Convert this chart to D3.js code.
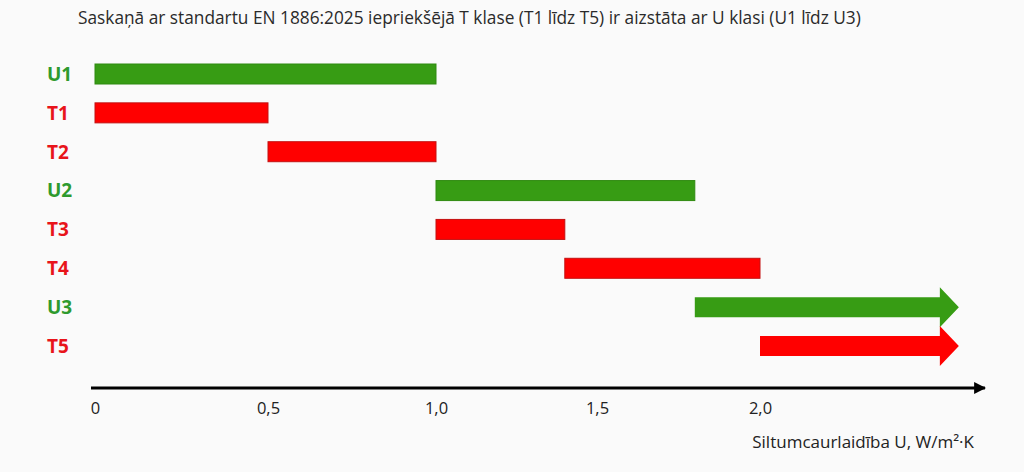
<!DOCTYPE html>
<html>
<head>
<meta charset="utf-8">
<script src="https://cdn.jsdelivr.net/npm/d3@7"></script>
<style>
	html, body { margin: 0; padding: 0; background: #fafafa; }
	svg { display: block; font-family: "Open Sans", "Noto Sans", sans-serif; }
</style>
</head>
<body>
<div id="chart-div"></div>
<script>

// classes from top to bottom, start/end in U (W/m2K), open = no upper limit
const classes = ["U1", "T1", "T2", "U2", "T3", "T4", "U3", "T5"];
const starts  = [0,    0,    0.5,  1.0,  1.0,  1.4,  1.8,  2.0];
const ends    = [1.0,  0.5,  1.0,  1.8,  1.4,  2.0,  null, null];
const tickValues = [0, 0.5, 1.0, 1.5, 2.0];
const tickLabels = ["0", "0,5", "1,0", "1,5", "2,0"];
const openEnd = 2.61;
const axisEnd = 2.69;

const title = "Saskaņā ar standartu EN 1886:2025 iepriekšējā T klase (T1 līdz T5) ir aizstāta ar U klasi  (U1 līdz U3)";
const axisTitle = "Siltumcaurlaidība U, W/m²·K";

const width = 1024, height = 472;
const green = "#379c14", red = "#ff0000";
const greenText = "#2e9a2e", redText = "#e8141a";

let svg = d3.select("#chart-div")
			.append("svg")
			.attr("width", width)
			.attr("height", height);

svg.append("rect")
	.attr("width", width)
	.attr("height", height)
	.attr("fill", "#fafafa");

const data = classes.map((c, i) => ({ name: c, start: starts[i], end: ends[i] }));

// the original drawing is not quite even, so the scale is pinned at each tick
const xScale = d3.scaleLinear()
				.domain(tickValues)
				.range([95, 268, 436, 597, 760]);

const yScale = d3.scalePoint()
				.domain(classes)
				.range([74, 346]);

const barH = 20;
const headH = 40, headL = 19;

svg.append("text")
	.attr("x", 78)
	.attr("y", 24)
	.attr("font-size", 17.3)
	.attr("fill", "#2a2a2a")
	.text(title);

// class labels
svg.selectAll(".cls-label")
	.data(data)
	.enter()
	.append("text")
	.attr("class", "cls-label")
	.attr("x", 47)
	.attr("y", d => yScale(d.name))
	.attr("dy", "0.36em")
	.attr("font-size", 19)
	.attr("font-weight", "bold")
	.attr("fill", d => d.name[0] === "U" ? greenText : redText)
	.text(d => d.name);

// closed ranges as bars
svg.selectAll(".bar")
	.data(data.filter(d => d.end !== null))
	.enter()
	.append("rect")
	.attr("class", "bar")
	.attr("x", d => xScale(d.start))
	.attr("y", d => yScale(d.name) - barH / 2)
	.attr("width", d => xScale(d.end) - xScale(d.start))
	.attr("height", barH)
	.attr("fill", d => d.name[0] === "U" ? green : red)
	.attr("stroke", d => d.name[0] === "U" ? "#2f8a10" : "#c41010")
	.attr("stroke-width", 1);

// open ranges as arrows
svg.selectAll(".arrow")
	.data(data.filter(d => d.end === null))
	.enter()
	.append("path")
	.attr("class", "arrow")
	.attr("d", d => {
		const x0 = xScale(d.start), x2 = xScale(openEnd), x1 = x2 - headL;
		const y = yScale(d.name);
		return `M${x0},${y - barH / 2}H${x1}V${y - headH / 2}L${x2},${y}L${x1},${y + headH / 2}V${y + barH / 2}H${x0}Z`;
	})
	.attr("fill", d => d.name[0] === "U" ? green : red);

// x axis
const axisY = 388;
svg.append("defs")
	.append("marker")
	.attr("id", "axis-head")
	.attr("viewBox", "0 0 10 10")
	.attr("refX", 9)
	.attr("refY", 5)
	.attr("markerWidth", 4)
	.attr("markerHeight", 4)
	.attr("orient", "auto")
	.append("path")
	.attr("d", "M0,0L10,5L0,10Z")
	.attr("fill", "#000");

svg.append("line")
	.attr("x1", xScale(0) - 4)
	.attr("x2", xScale(axisEnd))
	.attr("y1", axisY)
	.attr("y2", axisY)
	.attr("stroke", "#000")
	.attr("stroke-width", 3)
	.attr("marker-end", "url(#axis-head)");

const xAxis = d3.axisBottom(xScale)
				.tickValues(tickValues)
				.tickFormat((d, i) => tickLabels[i])
				.tickSize(0)
				.tickPadding(14);

const gx = svg.append("g")
	.attr("transform", `translate(0, ${axisY})`)
	.call(xAxis);
gx.select(".domain").remove();
gx.selectAll("text")
	.attr("font-family", "'Open Sans', 'Noto Sans', sans-serif")
	.attr("font-size", 16.5)
	.attr("fill", "#222");

svg.append("text")
	.attr("x", 974)
	.attr("y", 448)
	.attr("text-anchor", "end")
	.attr("font-size", 17)
	.attr("fill", "#222")
	.text(axisTitle);

</script>
</body>
</html>
